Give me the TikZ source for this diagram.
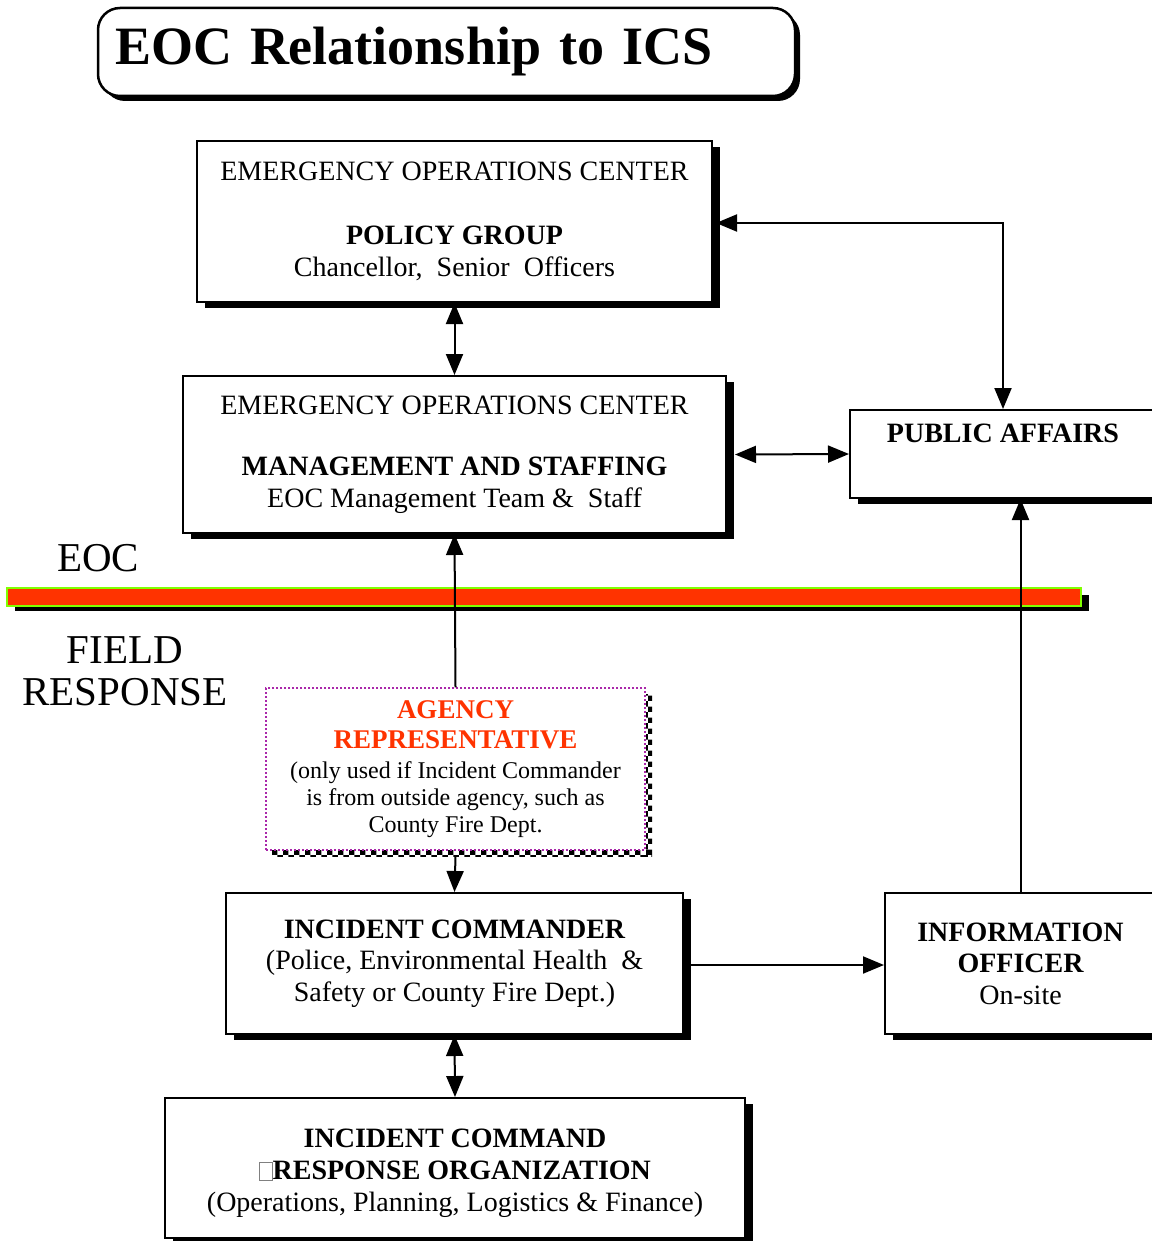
\documentclass[tikz,border=0pt]{standalone}
\usepackage{fontspec}
\setmainfont{Liberation Serif}
\usetikzlibrary{arrows.meta,shadows,patterns}
\definecolor{barred}{RGB}{255,51,0}
\definecolor{bargreen}{RGB}{128,255,0}
\definecolor{repmagenta}{RGB}{170,40,170}

\begin{document}
\begin{tikzpicture}[x=1pt,y=-1pt,
  box/.style={draw=black, line width=2pt, fill=white, align=center, inner sep=0pt,
    font=\fontsize{28}{32}\selectfont,
    drop shadow={shadow xshift=8pt, shadow yshift=-6pt, fill=black, opacity=1}},
  repbox/.style={draw=repmagenta, line width=1.4pt, dash pattern=on 2pt off 2pt,
    fill=white, align=center, inner sep=0pt, font=\fontsize{24}{27}\selectfont},
  sidelabel/.style={font=\fontsize{41}{42}\selectfont, align=center, inner sep=0pt},
  link/.style={line width=2pt, -{Triangle[length=21pt,width=17pt]}},
  biglink/.style={line width=2pt, {Triangle[length=21pt,width=17pt]}-{Triangle[length=21pt,width=17pt]}}
]
\useasboundingbox (0,0) rectangle (1151,1241);
\fill[white] (0,0) rectangle (1151,1241);

% title banner
\node[draw=black, line width=2.5pt, fill=white, rounded corners=22pt,
      minimum width=697pt, minimum height=88pt, text width=663pt, inner xsep=17pt,
      align=left, font=\fontsize{54}{60}\selectfont\bfseries,
      drop shadow={shadow xshift=5pt, shadow yshift=-5pt, fill=black, opacity=1}]
  (title) at (446.5,52) {EOC Relationship to ICS};

% EOC level boxes
\node[box, minimum width=515pt, minimum height=161pt] (policy) at (454.5,221.5)
  {EMERGENCY OPERATIONS CENTER\\[32pt]
   {\bfseries POLICY GROUP}\\
   Chancellor,\ \ Senior\ \ Officers};

\node[box, minimum width=543pt, minimum height=157pt] (mgmt) at (454.5,454.5)
  {EMERGENCY OPERATIONS CENTER\\[29pt]
   {\bfseries MANAGEMENT AND STAFFING}\\
   EOC\ Management\ Team\ \&\ \ Staff};

\node[box, minimum width=306pt, minimum height=88pt,
      label={[anchor=north, yshift=-15pt, inner sep=0pt, font=\fontsize{28}{32}\selectfont\bfseries]north:PUBLIC AFFAIRS}]
  (pa) at (1003,454) {};

% divider between EOC and field response
\fill[black] (15,595) rectangle (1089,611);
\draw[draw=bargreen, fill=barred, line width=2.5pt] (7,588) rectangle (1081,606);

\node[sidelabel] (eoc) at (98,558) {EOC};
\node[sidelabel] (field) at (125,671) {FIELD\\RESPONSE};

% agency representative with chequered shadow
\fill[pattern=checkerboard] (646,694) rectangle (652,856);
\fill[pattern=checkerboard] (272,850) rectangle (652,856);
\node[repbox, minimum width=379pt, minimum height=162pt] (agency) at (455.5,769)
  {{\color{barred}\bfseries\fontsize{27}{30}\selectfont AGENCY}\\[3pt]
   {\color{barred}\bfseries\fontsize{27}{30}\selectfont REPRESENTATIVE}\\[3pt]
   (only used if Incident Commander\\
   is from outside agency, such as\\
   County Fire Dept.};

% field level boxes
\node[box, minimum width=457pt, minimum height=141pt] (ic) at (454.5,963.5)
  {{\bfseries INCIDENT COMMANDER}\\[-1pt]
   (Police,\ Environmental\ Health\ \ \&\\
   Safety or County Fire Dept.)};

\node[box, minimum width=271pt, minimum height=141pt] (io) at (1020.5,963.5)
  {{\bfseries INFORMATION}\\[-1pt]
   {\bfseries OFFICER}\\
   On-site};

\node[box, minimum width=580pt, minimum height=140pt] (icro) at (455,1168)
  {\rule{0pt}{30pt}{\bfseries INCIDENT COMMAND}\\
   {{\color{gray}\fboxsep=0pt\fboxrule=0.8pt\fbox{\rule{0pt}{17pt}\hspace{12pt}}}\bfseries RESPONSE ORGANIZATION}\\
   (Operations,\ Planning,\ Logistics \& Finance)};

% connectors
\draw[biglink] (policy.south) -- (mgmt.north);
\draw[biglink] ([xshift=3pt,yshift=-1.5pt]policy.east) -| (pa.north);
\draw[biglink] ([xshift=8pt]mgmt.east) -- (pa.west);
\draw[link] (agency.north) -- (mgmt.south);
\draw[link] ([yshift=-6pt]agency.south) -- (ic.north);
\draw[link] ([xshift=7pt,yshift=-1.5pt]ic.east) -- ([yshift=-1.5pt]io.west);
\draw[link] (io.north) -- (io.north |- pa.south);
\draw[biglink] (ic.south) -- (icro.north);
\end{tikzpicture}
\end{document}
